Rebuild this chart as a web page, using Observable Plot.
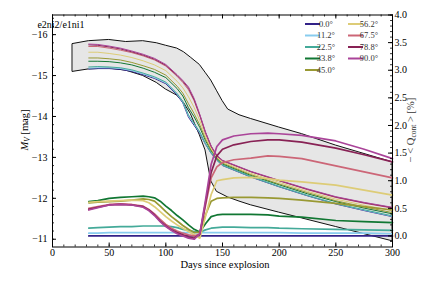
<!DOCTYPE html>
<html><head><meta charset="utf-8">
<script src="https://cdn.jsdelivr.net/npm/d3@7"></script>
<script src="https://cdn.jsdelivr.net/npm/@observablehq/plot@0.6"></script>
<style>
html,body{margin:0;padding:0;background:#fff}
svg, svg text{font-family:"Liberation Serif","DejaVu Serif",serif !important}
</style>
</head><body><div id="chart"></div>
<script>
// ---------- data ----------
const angles = ["0.0","11.2","22.5","33.8","45.0","56.2","67.5","78.8","90.0"];
const colors = ["#332288","#88CCEE","#44AA99","#117733","#999933","#DDCC77","#CC6677","#882255","#AA4499"];

// grey envelope of magnitudes
const bandDays = [18,32,50,65,80,92,100,110,116,122,130,135,140,145,150,155,165,175,200,220,250,300];
const bandHi   = [-15.77,-15.84,-15.87,-15.82,-15.84,-15.79,-15.73,-15.66,-15.57,-15.44,-15.26,-15.07,-14.88,-14.63,-14.38,-14.17,-14.03,-13.94,-13.73,-13.57,-13.29,-12.88];
const bandLo   = [-15.09,-15.15,-15.17,-15.12,-14.99,-14.82,-14.66,-14.51,-14.33,-14.06,-13.54,-13.17,-12.42,-12.16,-12.09,-12.02,-11.92,-11.83,-11.65,-11.51,-11.30,-10.95];

// V-band magnitude light curves (one per angle)
const magDays = [32,40,50,60,70,80,90,100,110,115,120,125,130,135,140,145,150,175,200,225,250,275,300];
const mag00  = [-15.16,-15.17,-15.17,-15.15,-15.10,-15.02,-14.93,-14.80,-14.52,-14.33,-13.98,-13.78,-13.58,-13.32,-13.10,-12.93,-12.80,-12.52,-12.28,-12.06,-11.86,-11.70,-11.55];
const mag112 = [-15.18,-15.19,-15.19,-15.17,-15.12,-15.04,-14.95,-14.82,-14.54,-14.35,-14.01,-13.81,-13.60,-13.33,-13.11,-12.94,-12.81,-12.53,-12.29,-12.07,-11.87,-11.71,-11.56];
const mag225 = [-15.21,-15.22,-15.21,-15.19,-15.14,-15.06,-14.97,-14.84,-14.56,-14.37,-14.04,-13.83,-13.62,-13.34,-13.11,-12.94,-12.81,-12.53,-12.29,-12.07,-11.87,-11.72,-11.57];
const mag338 = [-15.35,-15.35,-15.34,-15.31,-15.26,-15.18,-15.08,-14.95,-14.68,-14.50,-14.21,-13.99,-13.73,-13.41,-13.16,-12.97,-12.84,-12.56,-12.33,-12.11,-11.92,-11.76,-11.62];
const mag450 = [-15.43,-15.43,-15.41,-15.38,-15.32,-15.24,-15.15,-15.01,-14.74,-14.57,-14.31,-14.07,-13.79,-13.45,-13.18,-12.98,-12.86,-12.58,-12.35,-12.14,-11.94,-11.79,-11.65];
const mag562 = [-15.57,-15.57,-15.54,-15.50,-15.44,-15.36,-15.26,-15.12,-14.86,-14.70,-14.48,-14.22,-13.90,-13.52,-13.22,-13.01,-12.89,-12.61,-12.39,-12.17,-11.98,-11.83,-11.70];
const mag675 = [-15.71,-15.71,-15.67,-15.62,-15.56,-15.48,-15.38,-15.23,-14.98,-14.83,-14.65,-14.38,-14.01,-13.59,-13.26,-13.04,-12.92,-12.65,-12.43,-12.21,-12.02,-11.88,-11.76];
const mag788 = [-15.75,-15.74,-15.70,-15.65,-15.58,-15.50,-15.40,-15.25,-15.00,-14.86,-14.69,-14.41,-14.03,-13.61,-13.27,-13.04,-12.92,-12.65,-12.43,-12.22,-12.03,-11.89,-11.77];
const mag900 = [-15.77,-15.76,-15.72,-15.67,-15.60,-15.52,-15.42,-15.27,-15.02,-14.88,-14.72,-14.44,-14.05,-13.62,-13.28,-13.05,-12.93,-12.66,-12.44,-12.23,-12.04,-11.90,-11.78];

// continuum polarisation -<Q_cont> [%] (one per angle)
const qDays = [32,40,50,60,70,80,85,90,95,100,105,110,115,120,125,130,135,140,145,150,160,175,190,200,220,250,275,300];
const q00  = [0.00,0.00,0.00,0.00,0.00,0.00,0.00,0.00,0.00,0.00,0.00,0.00,0.00,0.00,0.00,0.00,0.00,0.00,0.00,0.00,0.00,0.00,0.00,0.00,0.00,0.00,0.00,0.00];
const q112 = [0.05,0.05,0.06,0.06,0.06,0.06,0.06,0.06,0.06,0.06,0.06,0.06,0.06,0.06,0.06,0.06,0.06,0.06,0.06,0.06,0.06,0.06,0.06,0.06,0.05,0.05,0.05,0.04];
const q225 = [0.14,0.15,0.16,0.17,0.17,0.18,0.18,0.18,0.18,0.18,0.17,0.15,0.12,0.10,0.08,0.07,0.11,0.14,0.15,0.16,0.16,0.15,0.15,0.14,0.13,0.12,0.11,0.10];
const q338 = [0.62,0.64,0.68,0.70,0.71,0.72,0.71,0.69,0.63,0.54,0.46,0.37,0.29,0.20,0.12,0.07,0.22,0.35,0.38,0.39,0.39,0.39,0.38,0.36,0.34,0.28,0.26,0.24];
const q450 = [0.60,0.61,0.62,0.63,0.65,0.67,0.66,0.63,0.54,0.44,0.35,0.27,0.19,0.12,0.06,0.07,0.38,0.63,0.68,0.69,0.70,0.70,0.69,0.68,0.65,0.59,0.53,0.47];
const q562 = [0.61,0.62,0.63,0.64,0.65,0.64,0.60,0.53,0.44,0.35,0.27,0.20,0.14,0.08,0.02,-0.04,0.35,0.75,1.00,1.02,1.05,1.06,1.04,1.01,0.98,0.92,0.83,0.74];
const q675 = [0.50,0.53,0.57,0.58,0.57,0.54,0.48,0.40,0.30,0.21,0.14,0.09,0.05,0.02,0.00,0.04,0.55,1.05,1.25,1.33,1.38,1.41,1.45,1.44,1.40,1.27,1.16,1.05];
const q788 = [0.48,0.52,0.56,0.57,0.56,0.53,0.47,0.38,0.27,0.18,0.11,0.06,0.02,-0.02,-0.04,0.03,0.60,1.15,1.45,1.57,1.65,1.71,1.74,1.74,1.70,1.59,1.47,1.34];
const q900 = [0.47,0.51,0.56,0.57,0.56,0.52,0.46,0.37,0.26,0.17,0.10,0.04,0.00,-0.04,-0.06,0.04,0.65,1.30,1.62,1.74,1.81,1.85,1.86,1.85,1.82,1.72,1.57,1.40];

// ticks
const xTicks = [0,50,100,150,200,250,300];
const magTicks = [-16,-15,-14,-13,-12,-11];
const qTicks = [0.0,0.5,1.0,1.5,2.0,2.5,3.0,3.5,4.0];

// ---------- build tables ----------
const magSeries = [mag00,mag112,mag225,mag338,mag450,mag562,mag675,mag788,mag900];
const qSeries = [q00,q112,q225,q338,q450,q562,q675,q788,q900];
const band = bandDays.map((d,i)=>({day:d, hi:bandHi[i], lo:bandLo[i]}));
const magRows = [], qRows = [];
angles.forEach((a,k)=>{
  magDays.forEach((d,i)=>magRows.push({angle:a, day:d, v:magSeries[k][i]}));
  qDays.forEach((d,i)=>qRows.push({angle:a, day:d, v:qSeries[k][i]}));
});

// ---------- geometry ----------
const W=436, H=291, mL=52, mR=44, mT=14.5, mB=44.5;
const frameW = W-mL-mR, frameH = H-mT-mB;
const magDom = [-10.81,-16.48];   // bottom, top
const qDom = [-0.2, 4.0];         // bottom, top (right axis)
const qToY = q => magDom[0] + (q-qDom[0])/(qDom[1]-qDom[0])*(magDom[1]-magDom[0]);
const yToQ = y => qDom[0] + (y-magDom[0])/(magDom[1]-magDom[0])*(qDom[1]-qDom[0]);
const xMinor = d3.range(0,301,10);
const magMinor = d3.range(-16.4,-10.85,0.2);
const qMinor = d3.range(-0.1,4.001,0.1);

const font = "Liberation Serif";

const plot = Plot.plot({
  width: W, height: H,
  marginLeft: mL, marginRight: mR, marginTop: mT, marginBottom: mB,
  style: {fontFamily: font, fontSize: "9.5px", background: "white", color: "black"},
  x: {domain: [0,300]},
  y: {domain: magDom},
  color: {type: "ordinal", domain: angles, range: colors},
  marks: [
    Plot.areaY(band, {x:"day", y1:"lo", y2:"hi", fill:"#e6e6e6", stroke:"#111", strokeWidth:1}),
    Plot.line(magRows, {x:"day", y:"v", z:"angle", stroke:"angle", strokeWidth:1}),
    Plot.line(qRows, {x:"day", y:d=>qToY(d.v), z:"angle", stroke:"angle", strokeWidth:1.7}),
    Plot.frame({stroke:"black", strokeWidth:1}),
    // ticks (inward)
    Plot.ruleX(xTicks, {insetTop: frameH-4, stroke:"black"}),
    Plot.ruleX(xTicks, {insetBottom: frameH-4, stroke:"black"}),
    Plot.ruleX(xMinor, {insetTop: frameH-2, stroke:"black", strokeWidth:0.8}),
    Plot.ruleX(xMinor, {insetBottom: frameH-2, stroke:"black", strokeWidth:0.8}),
    Plot.ruleY(magTicks, {insetRight: frameW-4, stroke:"black"}),
    Plot.ruleY(magMinor, {insetRight: frameW-2, stroke:"black", strokeWidth:0.8}),
    Plot.ruleY(qTicks.map(qToY), {insetLeft: frameW-4, stroke:"black"}),
    Plot.ruleY(qMinor.map(qToY), {insetLeft: frameW-2, stroke:"black", strokeWidth:0.8}),
    // tick labels
    Plot.axisX(xTicks, {anchor:"bottom", tickSize:0, tickPadding:2, label:null, fontSize:10}),
    Plot.axisY(magTicks, {anchor:"left", tickSize:0, tickPadding:5, label:null, fontSize:10, tickFormat: d=>"\u2212"+Math.abs(d)}),
    Plot.axisY(qTicks.map(qToY), {anchor:"right", tickSize:0, tickPadding:2, label:null, fontSize:10,
      tickFormat: d=>(Math.round(yToQ(d)*10)/10+0).toFixed(1)})
  ]
});
document.getElementById("chart").appendChild(plot);

// ---------- labels & legend ----------
const svg = d3.select(plot);
svg.append("text").attr("x",61).attr("y",28).attr("font-size",10).attr("fill","black").text("e2ni2/e1ni1");

svg.append("text").attr("x", mL+frameW/2+3).attr("y", 268).attr("text-anchor","middle")
  .attr("font-size",10.5).attr("fill","black").text("Days since explosion");

const yl = svg.append("text").attr("transform","translate(28,130) rotate(-90)")
  .attr("text-anchor","middle").attr("font-size",10.5).attr("fill","black");
yl.append("tspan").attr("font-style","italic").text("M");
yl.append("tspan").attr("font-style","italic").attr("font-size",7.5).attr("dy",2).text("V");
yl.append("tspan").attr("dy",-2).text(" [mag]");

const yr = svg.append("text").attr("transform","translate(414,130) rotate(-90)")
  .attr("text-anchor","middle").attr("font-size",10.5).attr("fill","#333");
yr.append("tspan").text("\u2212 < Q");
yr.append("tspan").attr("font-size",7.5).attr("dy",2).text("cont");
yr.append("tspan").attr("dy",-2).text(" > [%]");

const lg = svg.append("g").attr("font-size",8.5).attr("fill","#333");
angles.forEach((a,i)=>{
  const col = i<5 ? 0 : 1, row = i<5 ? i : i-5;
  const x0 = col ? 348 : 305, y0 = 24 + row*11.5;
  lg.append("line").attr("x1",x0).attr("x2",x0+15).attr("y1",y0).attr("y2",y0)
    .attr("stroke",colors[i]).attr("stroke-width",2);
  lg.append("text").attr("x",x0+21).attr("y",y0).attr("dy","0.35em").text(a+"\u00b0");
});
</script>
</body></html>
